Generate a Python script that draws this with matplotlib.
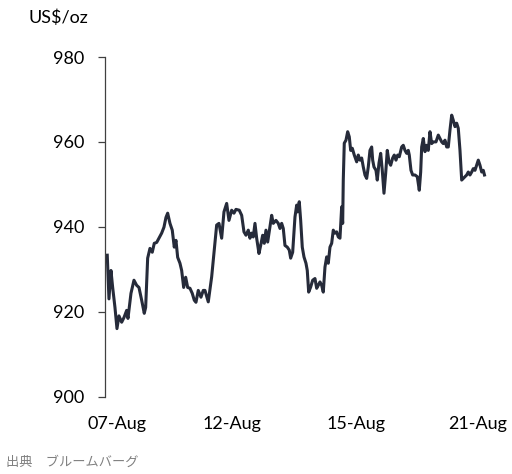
import matplotlib
matplotlib.use("Agg")
import matplotlib.pyplot as plt

# time steps (arbitrary units) and gold price US$/oz
t = [0.3, 1, 2, 4, 5.7, 8, 10, 12, 14.7, 17, 19.7, 21, 24, 27, 29.7, 32, 34.7, 37.3, 38.7, 40.7,
     43, 45.3, 47.3, 49.7, 52, 54.7, 57, 59, 60.7, 63, 65.3, 67.3, 69, 70.7, 73, 74.7, 76.7, 78.7, 80.7, 83,
     85.3, 87.3, 89, 91.3, 94, 96.3, 98, 101.3, 104.7, 107, 109.7, 112, 114.7, 117, 119.7, 122, 124.7, 127, 129, 132.3,
     134.7, 137, 139, 141.3, 143, 144.7, 146.3, 148, 149.7, 152, 153.7, 155.7, 157.3, 159, 160.7, 163, 164.7, 166.3, 169, 171.3,
     173, 174.7, 176.3, 178, 180.3, 182.3, 183.7, 185.7, 188, 189.7, 190.7, 192.3, 193.7, 195.3, 197, 199, 200.3, 201.7, 203.7, 205.7,
     208, 209.7, 211.3, 213, 214.7, 216.3, 218, 219.7, 221.3, 223, 224.7, 226.3, 228, 229.7, 231.3, 233, 234.7, 235.7, 236.3, 237.3,
     239, 240.7, 242.3, 243.7, 245.3, 247.3, 249.7, 251.3, 253, 254.7, 256.3, 258, 259.7, 261.3, 263, 264.7, 265.7, 267, 269, 270.3,
     272, 273.7, 275.3, 277, 278.7, 280.3, 282, 283.7, 285.7, 287.3, 289, 290.7, 292.3, 294.7, 296.3, 298, 299.7, 301.3, 302.3, 304,
     305.7, 308, 310.3, 312.3, 313.7, 314.7, 316.3, 318, 319.7, 321.3, 323, 324.7, 326.3, 329, 331.3, 333, 334.7, 336.3, 338, 339.7,
     341.3, 343, 344.7, 346.3, 348, 349.7, 351.3, 353, 354.7, 356.3, 358, 359.7, 361.3, 363, 364.7, 366.3, 368, 369.7, 371.3, 373,
     374.7, 376.3, 377.5]

price = [933.3, 929, 923, 929.7, 925.7, 921, 916, 919, 917.5, 918.6, 920.3, 918.4, 924.3, 927.4, 926.2, 925.7, 922.7, 919.6, 921, 932.6,
         934.9, 934, 936.1, 936.3, 937.3, 938.5, 939.9, 942.2, 943.2, 940.8, 939.2, 935.2, 936.8, 932.8, 931.4, 929.7, 925.7, 928.1, 925.7, 925.5,
         924.3, 922.7, 922.2, 925, 923.4, 925, 925, 922.3, 928.2, 933.7, 940.4, 940.8, 937.3, 943.5, 945.5, 941.5, 943.9, 943.2, 944.1, 943.9,
         942.7, 938.8, 938, 939.2, 937.3, 938.5, 937.6, 940.8, 937.3, 933.7, 935.6, 938, 936.1, 939.2, 936.4, 940, 942.7, 940.8, 941.5, 940.8,
         939.6, 940.8, 939.6, 935.6, 935.2, 934.5, 932.6, 934, 942.3, 945.1, 943.5, 945.9, 941.5, 935.2, 932.9, 931.4, 929.7, 924.6, 925.8, 927.4,
         927.8, 925.5, 926.2, 927, 926.2, 924.6, 930.5, 932.9, 931.4, 935.2, 936.1, 939.2, 938.5, 938.8, 937.6, 937.3, 944.7, 940.8, 951, 959.7,
         960.4, 962.4, 961.2, 958, 958.5, 956.9, 955.3, 956.9, 955.7, 956.2, 954.1, 952.2, 951.4, 954.1, 958, 958.8, 955.7, 954.1, 953.3, 951,
         955, 957.3, 953.3, 947.9, 952.6, 958, 955.3, 954.5, 956.2, 956.9, 955.7, 956.9, 956.5, 958.8, 959.2, 958, 957.3, 958, 956.9, 953.3,
         952.2, 952.2, 951.8, 948.6, 952.9, 958.8, 960.8, 957.7, 959.2, 958, 962.4, 959.6, 960, 960, 961.6, 960.8, 960, 959.6, 960.4, 958.8,
         958.8, 962.8, 966.3, 965.1, 963.6, 964.4, 963.2, 958, 951, 951.4, 951.8, 952.2, 952.9, 952.2, 952.9, 953.7, 953.3, 954.5, 955.7, 954.5,
         952.9, 953.3, 952.2]

date_ticks = [10, 125, 249, 371]
date_labels = ["07-Aug", "12-Aug", "15-Aug", "21-Aug"]
y_ticks = [900, 920, 940, 960, 980]

plt.rcParams['font.family'] = ['Lato', 'DejaVu Sans']

fig = plt.figure(figsize=(5.12, 4.74), dpi=100)
ax = fig.add_axes([0.205, 0.1635, 0.752, 0.7162])
ax.plot(t, price, color="#262b3a", lw=2.2, solid_joinstyle="round")
ax.set_xlim(-2, 383)
ax.set_ylim(900, 980)
ax.set_yticks(y_ticks)
ax.set_xticks(date_ticks)
ax.set_xticklabels(date_labels)
for s in ["top", "right", "bottom"]:
    ax.spines[s].set_visible(False)
ax.spines["left"].set_color("#404040")
ax.spines["left"].set_linewidth(0.9)
ax.tick_params(axis="y", direction="out", length=5, width=0.9, color="#404040",
               pad=10, labelsize=13, labelcolor="#000000")
ax.tick_params(axis="x", length=0, pad=14, labelsize=13, labelcolor="#000000")

fig.text(0.055, 0.962, "US$/oz", fontsize=13, ha="left", va="center")
fig.text(0.012, 0.025, "出典　ブルームバーグ", fontsize=9.5, color="#808080",
         ha="left", va="center", family=['Noto Sans CJK JP', 'DejaVu Sans'])

fig.savefig("out.png", dpi=100)
